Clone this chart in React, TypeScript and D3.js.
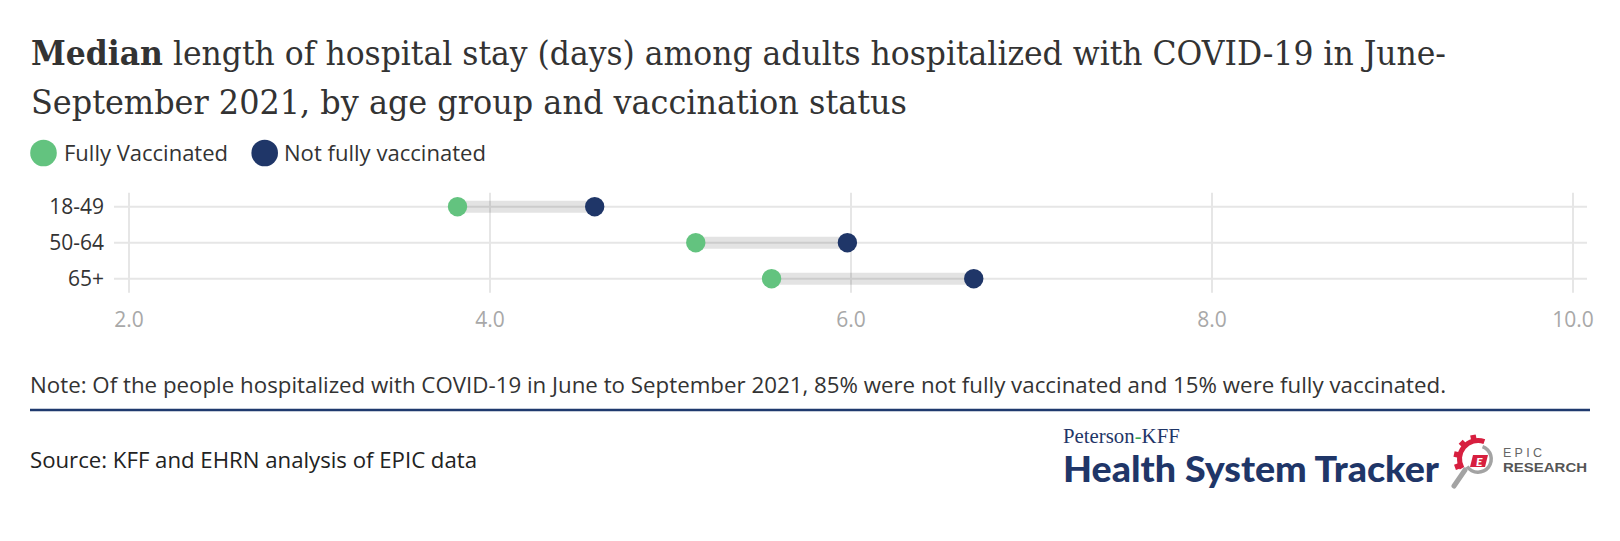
import React from "react";
import * as d3 from "d3";

// Age groups and median length of stay (days)
const categories = ["18-49", "50-64", "65+"];
const fullyVaccinated = [3.82, 5.14, 5.56];
const notFullyVaccinated = [4.58, 5.98, 6.68];
const xTicks = [2, 4, 6, 8, 10];
const seriesNames = ["Fully Vaccinated", "Not fully vaccinated"];
const seriesColors = ["#63c37f", "#1f3668"];

const titleBold = "Median";
const titleRest1 = " length of hospital stay (days) among adults hospitalized with COVID-19 in June-";
const titleLine2 = "September 2021, by age group and vaccination status";
const noteText =
  "Note: Of the people hospitalized with COVID-19 in June to September 2021, 85% were not fully vaccinated and 15% were fully vaccinated.";
const sourceText = "Source: KFF and EHRN analysis of EPIC data";

const W = 1620;
const H = 541;
const SANS = "'Open Sans', Lato, sans-serif";
const SERIF = "'DejaVu Serif Condensed', 'DejaVu Serif', serif";
const deg = Math.PI / 180;

function EpicLogo({ cx, cy }: { cx: number; cy: number }) {
  const arc = d3.arc();
  // red gear wrapping the upper-left side
  const gear = arc({ innerRadius: 16, outerRadius: 21, startAngle: -120 * deg, endAngle: 20 * deg } as any) as string;
  const teethAngles = [-110, -78, -45, -12];
  // grey magnifier ring on the right side
  const ring = arc({ innerRadius: 11.5, outerRadius: 15, startAngle: 20 * deg, endAngle: 235 * deg } as any) as string;
  return (
    <g transform={`translate(${cx},${cy})`}>
      <path d={ring} fill="#a3a3a3" />
      <line x1={-13} y1={11} x2={-24} y2={27} stroke="#a3a3a3" strokeWidth={5} strokeLinecap="round" />
      <path d={gear} fill="#d71f3f" />
      {teethAngles.map((a) => {
        const rad = (a - 90) * deg;
        return (
          <rect
            key={a}
            x={-2.8}
            y={-2.5}
            width={5.6}
            height={5}
            fill="#d71f3f"
            transform={`translate(${Math.cos(rad) * 22} ${Math.sin(rad) * 22}) rotate(${a})`}
          />
        );
      })}
      <path d="M-5,-4 L10,-4 L7,8 L-8,8 Z" fill="#d71f3f" />
      <text x={1.2} y={6.5} fontFamily="Lato, sans-serif" fontWeight={900} fontStyle="italic" fontSize={12} fill="#fff" textAnchor="middle">
        E
      </text>
    </g>
  );
}

export default function App() {
  const x = d3.scaleLinear().domain([2, 10]).range([129, 1573]);
  const y = d3.scalePoint<string>().domain(categories).range([206.7, 278.7]);
  const fmt = d3.format(".1f");
  const gridTop = (y(categories[0]) as number) - 14;
  const gridBottom = (y(categories[categories.length - 1]) as number) + 14;

  const rows = categories.map((c, i) => ({
    cat: c,
    a: fullyVaccinated[i],
    b: notFullyVaccinated[i],
  }));

  return (
    <svg
      width={W}
      height={H}
      viewBox={`0 0 ${W} ${H}`}
      style={{ position: "absolute", left: 0, top: 0, display: "block", background: "#fff" }}
    >
      <rect width={W} height={H} fill="#fff" />

      {/* Title */}
      <text x={31} y={65} fontFamily={SERIF} fontSize={33} fill="#333" textLength={1415} lengthAdjust="spacingAndGlyphs">
        <tspan fontWeight={700}>{titleBold}</tspan>
        <tspan>{titleRest1}</tspan>
      </text>
      <text x={31} y={114} fontFamily={SERIF} fontSize={33} fill="#333" textLength={876} lengthAdjust="spacingAndGlyphs">
        {titleLine2}
      </text>

      {/* Legend */}
      <circle cx={43.5} cy={153} r={13.3} fill={seriesColors[0]} />
      <text x={64} y={160.5} fontFamily={SANS} fontSize={21} fill="#333" textLength={164} lengthAdjust="spacingAndGlyphs">
        {seriesNames[0]}
      </text>
      <circle cx={264.7} cy={153} r={13.3} fill={seriesColors[1]} />
      <text x={284} y={160.5} fontFamily={SANS} fontSize={21} fill="#333" textLength={202} lengthAdjust="spacingAndGlyphs">
        {seriesNames[1]}
      </text>

      {/* Grid */}
      {xTicks.map((t) => (
        <line key={`v${t}`} x1={x(t)} x2={x(t)} y1={gridTop} y2={gridBottom} stroke="#e6e6e6" strokeWidth={2} />
      ))}
      {categories.map((c) => (
        <line key={`h${c}`} x1={114} x2={1587} y1={y(c)} y2={y(c)} stroke="#e6e6e6" strokeWidth={2} />
      ))}

      {/* X tick labels */}
      {xTicks.map((t) => (
        <text key={`t${t}`} x={x(t)} y={327} textAnchor="middle" fontFamily={SANS} fontSize={21} fill="#a8a8a8">
          {fmt(t)}
        </text>
      ))}

      {/* Y labels */}
      {categories.map((c) => (
        <text key={`y${c}`} x={104} y={(y(c) as number) + 7.5} textAnchor="end" fontFamily={SANS} fontSize={21} fill="#333">
          {c}
        </text>
      ))}

      {/* Dumbbells */}
      {rows.map((d) => (
        <g key={d.cat}>
          <line
            x1={x(d.a)}
            x2={x(d.b)}
            y1={y(d.cat)}
            y2={y(d.cat)}
            stroke="rgba(0,0,0,0.11)"
            strokeWidth={12}
          />
          <circle cx={x(d.a)} cy={y(d.cat)} r={9.7} fill={seriesColors[0]} />
          <circle cx={x(d.b)} cy={y(d.cat)} r={9.7} fill={seriesColors[1]} />
        </g>
      ))}

      {/* Note */}
      <text x={30} y={393} fontFamily={SANS} fontSize={21} fill="#333" textLength={1416} lengthAdjust="spacingAndGlyphs">
        {noteText}
      </text>
      <line x1={30} x2={1590} y1={410} y2={410} stroke="#1f3a6e" strokeWidth={2.5} />

      {/* Source */}
      <text x={30} y={468} fontFamily={SANS} fontSize={21} fill="#222" textLength={447} lengthAdjust="spacingAndGlyphs">
        {sourceText}
      </text>

      {/* Logos */}
      <text x={1063} y={442.5} fontFamily="'Liberation Serif', serif" fontSize={20.4} fill="#1f3668" textLength={71.6} lengthAdjust="spacingAndGlyphs">
        Peterson
      </text>
      <text x={1134.8} y={442.5} fontFamily="'Liberation Serif', serif" fontSize={20.4} fill="#3aa655">
        -
      </text>
      <text x={1141.6} y={442.5} fontFamily="'Liberation Serif', serif" fontSize={20.4} fill="#1f3668" textLength={38.2} lengthAdjust="spacingAndGlyphs">
        KFF
      </text>
      <text x={1063} y={482} fontFamily="Lato, sans-serif" fontWeight={900} fontSize={36} fill="#1f3668" textLength={376} lengthAdjust="spacingAndGlyphs">
        Health System Tracker
      </text>
      <EpicLogo cx={1478} cy={459} />
      <text x={1503} y={457} fontFamily="'Liberation Sans', Arial, sans-serif" fontSize={12.5} fill="#666" textLength={39} lengthAdjust="spacing">
        EPIC
      </text>
      <text x={1503} y={471.5} fontFamily="'Liberation Sans', Arial, sans-serif" fontWeight={700} fontSize={13.5} fill="#555" textLength={84} lengthAdjust="spacingAndGlyphs">
        RESEARCH
      </text>
    </svg>
  );
}
